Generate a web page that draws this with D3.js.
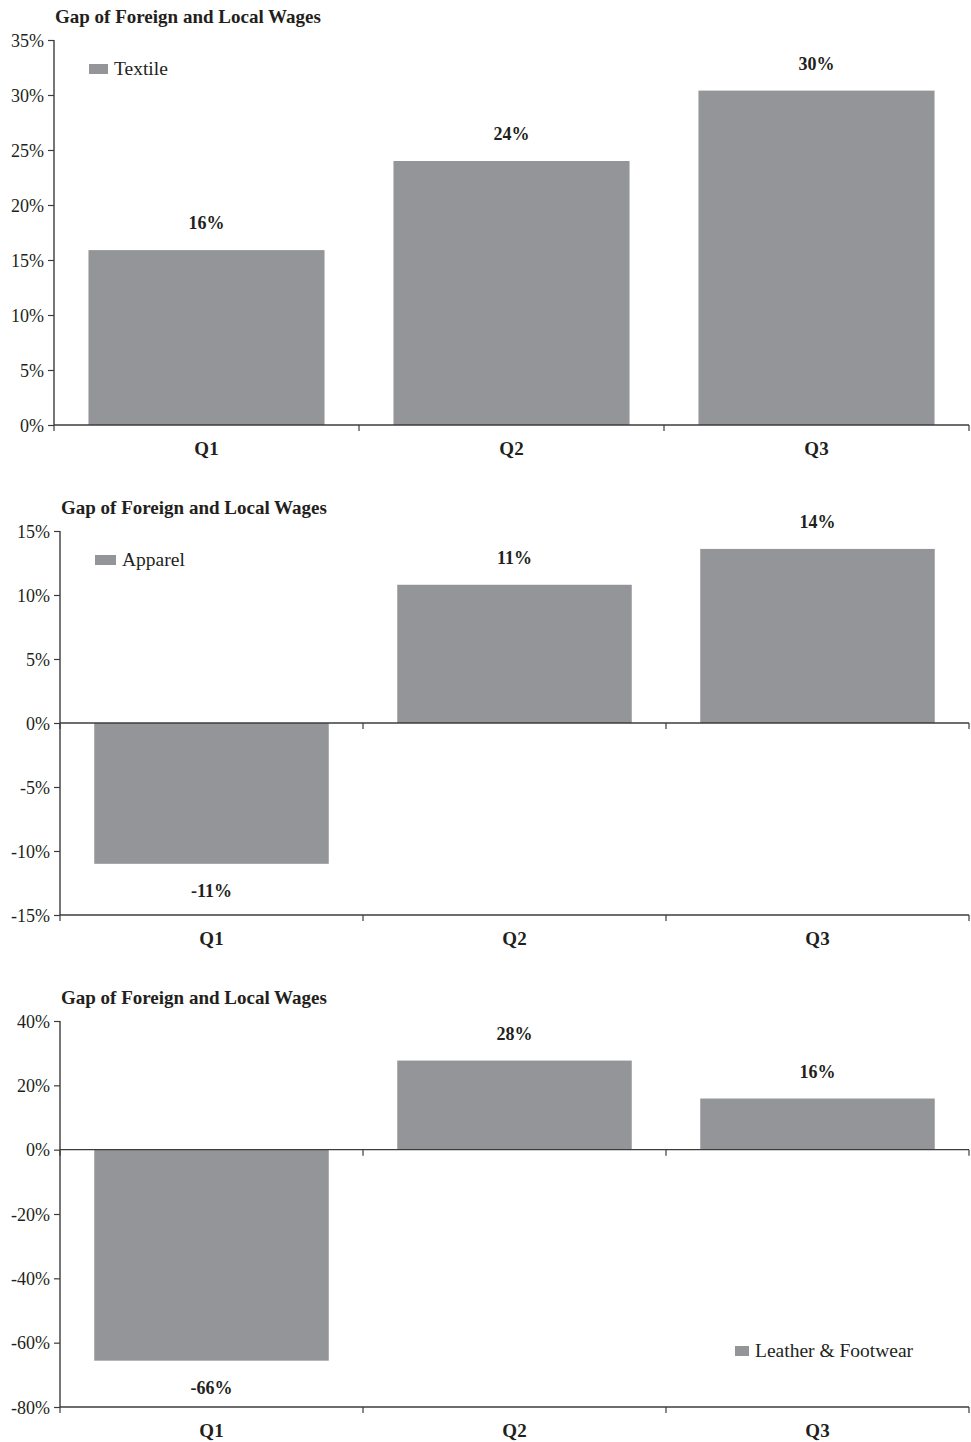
<!DOCTYPE html>
<html>
<head>
<meta charset="utf-8">
<script src="https://cdn.jsdelivr.net/npm/d3@7"></script>
<style>
  html, body { margin: 0; padding: 0; background: #fff; }
  svg { display: block; }
  text { font-family: "Liberation Serif", "DejaVu Serif", serif; fill: #231f20; }
</style>
</head>
<body>
<svg id="chart" width="971" height="1442"></svg>
<script>
// Wage gap of foreign vs local firms by quartile, per sector (percent)
const quarters = ["Q1", "Q2", "Q3"];
const textileGap = [15.9, 24.0, 30.4];
const apparelGap = [-11.0, 10.8, 13.6];
const leatherGap = [-65.6, 27.7, 15.9];

const textileTicks = [0, 5, 10, 15, 20, 25, 30, 35];
const apparelTicks = [-15, -10, -5, 0, 5, 10, 15];
const leatherTicks = [-80, -60, -40, -20, 0, 20, 40];

const panelTitle = "Gap of Foreign and Local Wages";

const BAR = "#939598";
const AXIS = "#3c3c3c";
const svg = d3.select("#chart");

function drawPanel(p) {
  const g = svg.append("g");
  const ext = d3.extent(p.ticks);
  const y = d3.scaleLinear().domain(ext).range([p.bottom, p.top]);
  const x = d3.scaleBand().domain(quarters).range([p.left, p.right])
    .paddingInner(0.226).paddingOuter(0.113);

  // title
  g.append("text").attr("x", p.left + 1).attr("y", p.top - 17)
    .attr("font-size", 19).attr("font-weight", "bold").text(panelTitle);

  // bars
  g.selectAll("rect.bar").data(p.values).join("rect")
    .attr("class", "bar")
    .attr("x", (d, i) => x(quarters[i]))
    .attr("width", x.bandwidth())
    .attr("y", d => Math.min(y(d), y(0)))
    .attr("height", d => Math.abs(y(d) - y(0)))
    .attr("fill", BAR);

  // value labels
  g.selectAll("text.val").data(p.values).join("text")
    .attr("class", "val")
    .attr("x", (d, i) => x(quarters[i]) + x.bandwidth() / 2)
    .attr("y", d => d >= 0 ? y(d) - 21 : y(d) + 33)
    .attr("text-anchor", "middle")
    .attr("font-size", 18).attr("font-weight", "bold")
    .text(d => Math.round(d) + "%");

  // y axis
  const yAxis = d3.axisLeft(y).tickValues(p.ticks).tickSize(6).tickPadding(4)
    .tickFormat(d => d + "%");
  const ya = g.append("g").attr("transform", `translate(${p.left},0)`).call(yAxis);
  ya.select(".domain").attr("stroke", AXIS).attr("stroke-width", 1.4)
    .attr("d", `M0,${p.top}V${p.bottom}`);
  ya.selectAll(".tick line").attr("stroke", AXIS).attr("stroke-width", 1.2);
  ya.selectAll(".tick text").attr("font-size", 18).attr("font-family", "Liberation Serif, serif")
    .attr("fill", "#231f20").attr("dy", "0.34em");

  // category axes: one at zero, one along the bottom edge
  const bounds = d3.range(quarters.length + 1).map(i => p.left + i * x.step());
  const lines = ext[0] < 0 ? [y(0), p.bottom] : [p.bottom];
  lines.forEach(ly => {
    g.append("line").attr("x1", p.left).attr("x2", p.right)
      .attr("y1", ly).attr("y2", ly).attr("stroke", AXIS).attr("stroke-width", 1.4);
    g.selectAll(null).data(bounds).join("line")
      .attr("x1", d => d).attr("x2", d => d)
      .attr("y1", ly).attr("y2", ly + 6)
      .attr("stroke", AXIS).attr("stroke-width", 1.2);
  });

  // category labels
  g.selectAll("text.cat").data(quarters).join("text")
    .attr("class", "cat")
    .attr("x", d => x(d) + x.bandwidth() / 2)
    .attr("y", p.bottom + 30)
    .attr("text-anchor", "middle")
    .attr("font-size", 19).attr("font-weight", "bold")
    .text(d => d);

  // legend
  g.append("rect").attr("x", p.legend[0]).attr("y", p.legend[1] - 10)
    .attr("width", p.legend[2]).attr("height", 10).attr("fill", BAR);
  g.append("text").attr("x", p.legend[0] + p.legend[2] + 6).attr("y", p.legend[1] + 1)
    .attr("font-size", 19.5).text(p.name);
}

drawPanel({ name: "Textile", values: textileGap, ticks: textileTicks,
  left: 54, right: 969, top: 40, bottom: 425, legend: [89, 74, 19] });
drawPanel({ name: "Apparel", values: apparelGap, ticks: apparelTicks,
  left: 60, right: 969, top: 531, bottom: 915, legend: [95, 565, 21] });
drawPanel({ name: "Leather & Footwear", values: leatherGap, ticks: leatherTicks,
  left: 60, right: 969, top: 1021, bottom: 1407, legend: [735, 1356, 14] });
</script>
</body>
</html>
